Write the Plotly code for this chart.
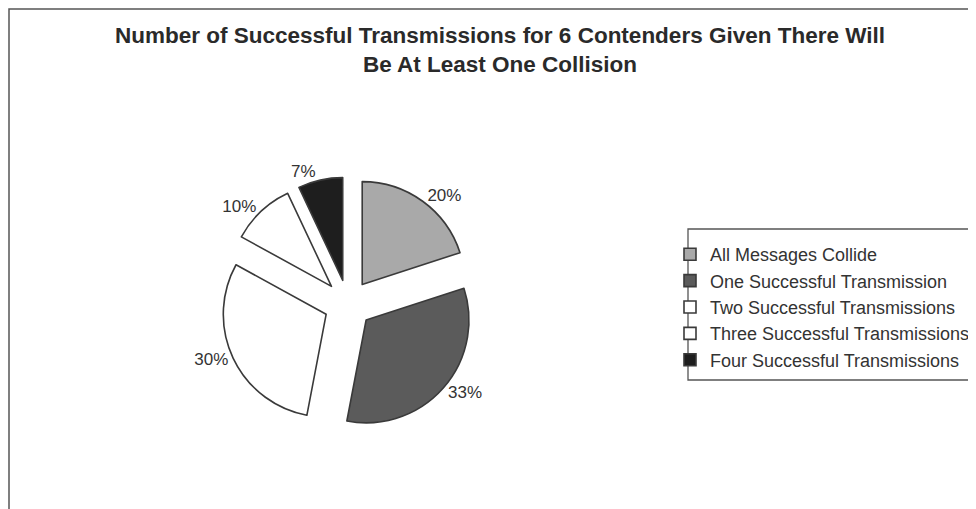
import plotly.graph_objects as go

categories = [
    "All Messages Collide",
    "One Successful Transmission",
    "Two Successful Transmissions",
    "Three Successful Transmissions",
    "Four Successful Transmissions",
]
percent_values = [20, 33, 30, 10, 7]
slice_colors = ["#a9a9a9", "#5b5b5b", "#ffffff", "#ffffff", "#1e1e1e"]

# page body has an 8px margin; figure sized so it ends at the window edge
OFF = 8
W, H = 976 - OFF, 509 - OFF


def px(x):
    return (x - OFF) / W


def py(y):
    return 1 - (y - OFF) / H


FONT = "Liberation Sans, Arial, sans-serif"

cx, cy, half = 348, 304, 127

fig = go.Figure()
fig.add_trace(go.Pie(
    labels=categories,
    values=percent_values,
    sort=False,
    direction="clockwise",
    rotation=0,
    pull=[0.235] * len(percent_values),
    marker=dict(colors=slice_colors, line=dict(color="#3a3a3a", width=1.6)),
    textinfo="percent",
    texttemplate="%{percent:.0%}",
    textposition="outside",
    outsidetextfont=dict(family=FONT, size=17, color="#333333"),
    domain=dict(x=[px(cx - half), px(cx + half)],
                y=[py(cy + half), py(cy - half)]),
    hoverinfo="label+percent",
))

fig.update_layout(
    width=W, height=H,
    margin=dict(l=0, r=0, t=0, b=0, autoexpand=False),
    paper_bgcolor="white",
    plot_bgcolor="white",
    title=dict(
        text="Number of Successful Transmissions for 6 Contenders Given There Will<br>Be At Least One Collision",
        font=dict(family=FONT, size=22.5, color="#2a2a2a", weight="bold"),
        x=px(500), xanchor="center",
        y=py(43), yanchor="middle",
    ),
    showlegend=True,
    legend=dict(
        x=px(670), xanchor="left",
        y=py(236), yanchor="top",
        font=dict(family=FONT, size=18, color="#333333"),
        bgcolor="rgba(0,0,0,0)",
        borderwidth=0,
        itemwidth=30,
    ),
    shapes=[
        # outer chart frame
        dict(type="rect", xref="paper", yref="paper",
             x0=px(9), x1=1.02, y0=-0.02, y1=py(9),
             line=dict(color="#555555", width=1.5), fillcolor="rgba(0,0,0,0)", layer="below"),
        # legend frame
        dict(type="rect", xref="paper", yref="paper",
             x0=px(688), x1=1.02, y0=py(380), y1=py(229),
             line=dict(color="#555555", width=1.3), fillcolor="rgba(0,0,0,0)", layer="below"),
    ],
)

fig.write_html("out.html")
